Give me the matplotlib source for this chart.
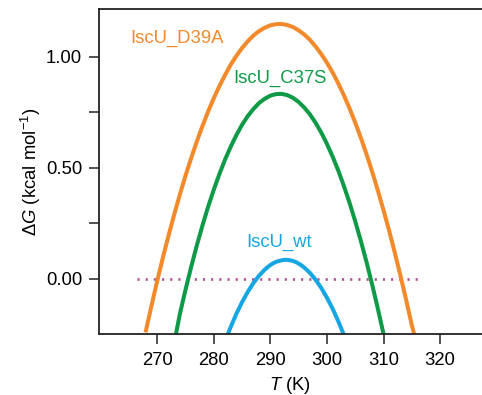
import matplotlib
matplotlib.use("Agg")
import matplotlib.pyplot as plt

plt.rcParams['font.family'] = ['Liberation Sans', 'DejaVu Sans']
plt.rcParams['mathtext.fontset'] = 'custom'
plt.rcParams['mathtext.rm'] = 'Liberation Sans'
plt.rcParams['mathtext.it'] = 'Liberation Sans:italic'

# ---- data ----
T_d39a = [268, 269, 270, 271, 272, 273, 274, 275, 276, 277, 278, 279, 280,
          281, 282, 283, 284, 285, 286, 287, 288, 289, 290, 291, 292, 293,
          294, 295, 296, 297, 298, 299, 300, 301, 302, 303, 304, 305, 306,
          307, 308, 309, 310, 311, 312, 313, 314, 315, 315.4]
G_d39a = [-0.234, -0.120, -0.010, 0.095, 0.194, 0.289, 0.379, 0.464, 0.543,
          0.618, 0.688, 0.753, 0.813, 0.868, 0.918, 0.964, 1.004, 1.039,
          1.069, 1.095, 1.115, 1.130, 1.141, 1.146, 1.147, 1.142, 1.133,
          1.118, 1.099, 1.075, 1.045, 1.011, 0.972, 0.928, 0.879, 0.825,
          0.766, 0.702, 0.633, 0.559, 0.480, 0.396, 0.307, 0.214, 0.115,
          0.011, -0.097, -0.211, -0.250]

T_c37s = [273.3, 274, 275, 276, 277, 278, 279, 280, 281, 282, 283, 284, 285,
          286, 287, 288, 289, 290, 291, 292, 293, 294, 295, 296, 297, 298,
          299, 300, 301, 302, 303, 304, 305, 306, 307, 308, 309, 310]
G_c37s = [-0.250, -0.159, -0.050, 0.053, 0.150, 0.240, 0.324, 0.401, 0.472,
          0.537, 0.595, 0.647, 0.693, 0.732, 0.764, 0.791, 0.810, 0.824,
          0.831, 0.832, 0.826, 0.814, 0.795, 0.770, 0.739, 0.701, 0.657,
          0.606, 0.549, 0.486, 0.416, 0.340, 0.257, 0.168, 0.073, -0.029,
          -0.137, -0.251]

T_wt = [282.5, 283, 284, 285, 286, 287, 288, 289, 289.5, 290, 290.5, 291,
        291.5, 292, 292.5, 293, 293.5, 294, 294.5, 295, 295.5, 296, 297,
        298, 299, 300, 301, 302, 303]
G_wt = [-0.249, -0.217, -0.158, -0.106, -0.060, -0.020, 0.013, 0.040, 0.051,
        0.061, 0.069, 0.075, 0.079, 0.082, 0.084, 0.084, 0.082, 0.079,
        0.074, 0.067, 0.059, 0.049, 0.025, -0.006, -0.043, -0.087, -0.136,
        -0.193, -0.255]

T_ref = [266.4, 316.3]
G_ref = [0.0, 0.0]

series_names = ['IscU_D39A', 'IscU_C37S', 'IscU_wt']
label_T = [265.2, 283.4, 285.7]
label_G = [1.084, 0.900, 0.162]

x_ticks = [270, 280, 290, 300, 310, 320]
y_ticks = [0.0, 0.25, 0.5, 0.75, 1.0]
y_tick_labels = ['0.00', '', '0.50', '', '1.00']

c_orange = '#f28a2b'
c_green = '#0f9a48'
c_blue = '#16a7e3'
c_ref = '#b04d8f'

FS = 13.3

fig = plt.figure(figsize=(4.82, 3.95), dpi=100)
ax = fig.add_axes([99/482, (395-334)/395, (482-99)/482, (334-9.3)/395])

ax.plot(T_ref, G_ref, color=c_ref, lw=1.9, linestyle=(0, (0.8, 2.3)),
        zorder=1)
for T, G, col in [(T_d39a, G_d39a, c_orange), (T_c37s, G_c37s, c_green),
                  (T_wt, G_wt, c_blue)]:
    ax.plot(T, G, color=col, lw=2.9, zorder=2, solid_joinstyle='round')

for name, tx, gy, col in zip(series_names, label_T, label_G,
                             [c_orange, c_green, c_blue]):
    ax.text(tx, gy, name, color=col, fontsize=FS, ha='left', va='center')

ax.set_xlim(259.7, 327.4)
ax.set_ylim(-0.25, 1.213)
ax.set_xticks(x_ticks)
ax.set_xticklabels([str(t) for t in x_ticks])
ax.set_yticks(y_ticks)
ax.set_yticklabels(y_tick_labels)

for s in ['left', 'bottom', 'top']:
    ax.spines[s].set_linewidth(1.3)
    ax.spines[s].set_color('#222222')
ax.spines['right'].set_visible(False)
ax.tick_params(axis='both', direction='out', length=7.2, width=1.1,
               colors='#222222', labelsize=FS, labelcolor='black')
ax.tick_params(axis='x', pad=6)
ax.tick_params(axis='y', pad=5)

ax.set_xlabel(r'$\mathit{T}$ (K)', fontsize=FS, labelpad=4)
ax.set_ylabel(r'$\Delta\mathit{G}$ (kcal mol$^{-1}$)', fontsize=FS, labelpad=2)

fig.savefig('out.png', dpi=100)
